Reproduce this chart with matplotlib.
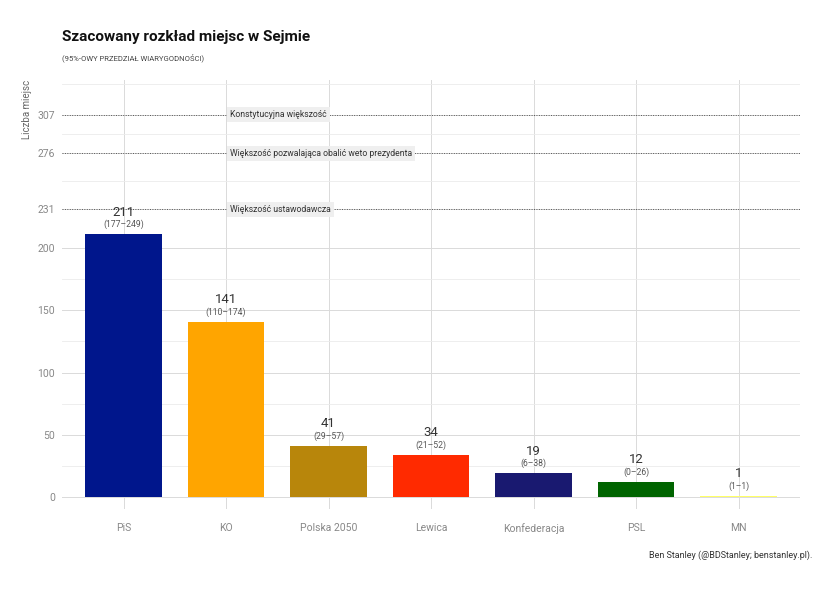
import matplotlib
matplotlib.use("Agg")
import matplotlib.pyplot as plt
from matplotlib import font_manager

# data
parties = ["PiS", "KO", "Polska 2050", "Lewica", "Konfederacja", "PSL", "MN"]
seats = [211, 141, 41, 34, 19, 12, 1]
lower = [177, 110, 29, 21, 6, 0, 1]
upper = [249, 174, 57, 52, 38, 26, 1]
colours = ["#00168C", "#FFA500", "#B8860B", "#FF2A00", "#191970", "#006400", "#FFFF66"]

thresholds = [231, 276, 307]
threshold_labels = ["Większość ustawodawcza",
                    "Większość pozwalająca obalić weto prezydenta",
                    "Konstytucyjna większość"]

y_major = [0, 50, 100, 150, 200, 231, 276, 307]
y_minor = [25, 75, 125, 175, 253.5, 291.5, 331.5]

names = {f.name for f in font_manager.fontManager.ttflist}
fam = [f for f in ["Liberation Sans Narrow", "Roboto", "DejaVu Sans"] if f in names]
plt.rcParams['font.family'] = fam

fig = plt.figure(figsize=(8.3, 5.93), dpi=100)
ax = fig.add_axes([62/830, 1-509/593, (800-62)/830, (509-80)/593])

x = list(range(1, len(parties)+1))
ax.bar(x, seats, width=0.75, color=colours, zorder=2)

for xi, s, lo, hi in zip(x, seats, lower, upper):
    ax.annotate("(%d–%d)" % (lo, hi), (xi, s), xytext=(0, 7), textcoords="offset points",
                ha="center", va="center", fontsize=6.2, color="#555555", zorder=4)
    ax.annotate(str(s), (xi, s), xytext=(0, 16), textcoords="offset points",
                ha="center", va="center", fontsize=9.5, color="#333333", zorder=4)

for t, lab in zip(thresholds, threshold_labels):
    ax.axhline(t, color="#555555", lw=0.7, ls=(0, (1, 1.5)), zorder=3)
    ax.text(2.04, t, lab, ha="left", va="center", fontsize=6.2, color="#333333", zorder=5,
            bbox=dict(boxstyle="square,pad=0.35", fc="#EFEFEF", ec="none"))

ax.set_xlim(0.4, 7.6)
ax.set_ylim(-9.6, 335)
ax.set_xticks(x)
ax.set_xticklabels(parties)
ax.set_yticks(y_major)
ax.set_yticks(y_minor, minor=True)
ax.grid(True, which="major", color="#DADADA", lw=0.7, zorder=0)
ax.grid(True, which="minor", axis="y", color="#EBEBEB", lw=0.6, zorder=0)
ax.tick_params(axis="both", which="both", length=0, colors="#888888", labelsize=7.5)
ax.tick_params(axis="x", pad=10)
ax.tick_params(axis="y", pad=5)
for sp in ax.spines.values():
    sp.set_visible(False)

ax.set_ylabel("Liczba miejsc", fontsize=7, color="#666666", loc="top", labelpad=4)

fig.text(62/830, 1-37/593, "Szacowany rozkład miejsc w Sejmie", fontsize=11,
         fontweight="bold", ha="left", va="center", color="#111111")
fig.text(62/830, 1-58/593, "(95%-OWY PRZEDZIAŁ WIARYGODNOŚCI)", fontsize=5.5,
         ha="left", va="center", color="#444444")
fig.text(812/830, 1-555/593, "Ben Stanley (@BDStanley; benstanley.pl).", fontsize=6.5,
         ha="right", va="center", color="#333333")

fig.savefig("out.png", dpi=100)
